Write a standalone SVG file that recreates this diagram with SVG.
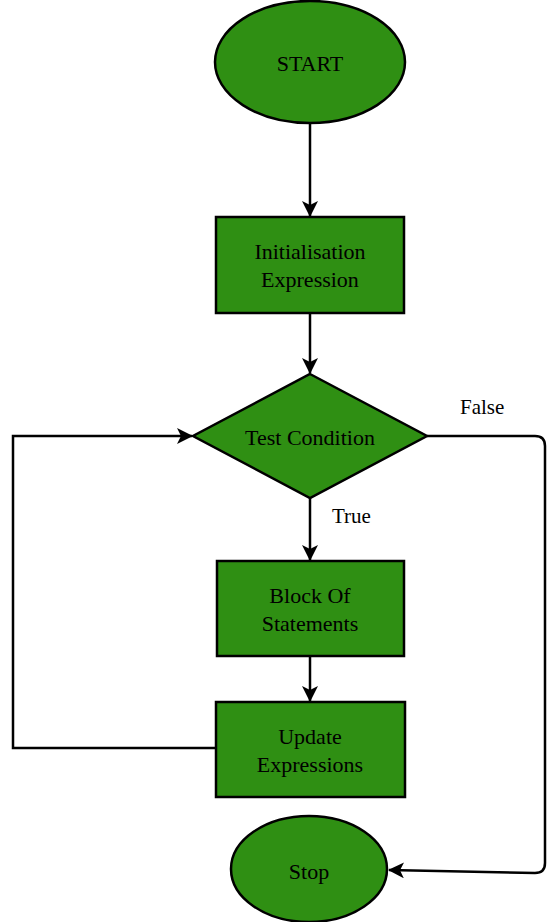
<svg xmlns="http://www.w3.org/2000/svg" width="558" height="922" viewBox="0 0 558 922">
  <style>
    .shape { fill: #2f8f13; stroke: #000; stroke-width: 2.5; }
    .lbl { font-family: "Liberation Serif", "DejaVu Serif", serif; font-size: 22px; fill: #000; text-anchor: middle; }
    .edge-lbl { font-family: "Liberation Serif", "DejaVu Serif", serif; font-size: 21px; fill: #000; }
    .conn { fill: none; stroke: #000; stroke-width: 2.5; }
  </style>
  <defs>
    <marker id="arrow" markerUnits="userSpaceOnUse" markerWidth="18" markerHeight="18" refX="15" refY="8" orient="auto">
      <path d="M0,0 L16,8 L0,16 L4,8 Z" fill="#000"/>
    </marker>
  </defs>
  <rect width="558" height="922" fill="#fff"/>
  <g id="connectors">
    <path class="conn" d="M310,124 L310,216" marker-end="url(#arrow)"/>
    <path class="conn" d="M310,313 L310,373" marker-end="url(#arrow)"/>
    <path class="conn" d="M310,498 L310,560" marker-end="url(#arrow)"/>
    <path class="conn" d="M310,656 L310,701" marker-end="url(#arrow)"/>
    <path class="conn" d="M216,748 L13,748 L13,436 L192,436" marker-end="url(#arrow)"/>
    <path class="conn" d="M427,436 L535,436 Q545,436 545,446 L545,863 Q545,873 535,873 L389,870" marker-end="url(#arrow)"/>
    <text class="edge-lbl" x="332" y="523">True</text>
    <text class="edge-lbl" x="460" y="414">False</text>
  </g>
  <g id="start">
    <ellipse class="shape" cx="310" cy="62" rx="95" ry="61"/>
    <text class="lbl" x="310" y="71">START</text>
  </g>
  <g id="init">
    <rect class="shape" x="216" y="217" width="188" height="96"/>
    <text class="lbl" x="310" y="259">Initialisation</text>
    <text class="lbl" x="310" y="287">Expression</text>
  </g>
  <g id="test">
    <polygon class="shape" points="310,374 427,436 310,498 193,436"/>
    <text class="lbl" x="310" y="445">Test Condition</text>
  </g>
  <g id="block">
    <rect class="shape" x="217" y="561" width="187" height="95"/>
    <text class="lbl" x="310" y="603">Block Of</text>
    <text class="lbl" x="310" y="631">Statements</text>
  </g>
  <g id="update">
    <rect class="shape" x="216" y="702" width="189" height="95"/>
    <text class="lbl" x="310" y="744">Update</text>
    <text class="lbl" x="310" y="772">Expressions</text>
  </g>
  <g id="stop">
    <ellipse class="shape" cx="309" cy="869" rx="78" ry="53"/>
    <text class="lbl" x="309" y="879">Stop</text>
  </g>
</svg>
